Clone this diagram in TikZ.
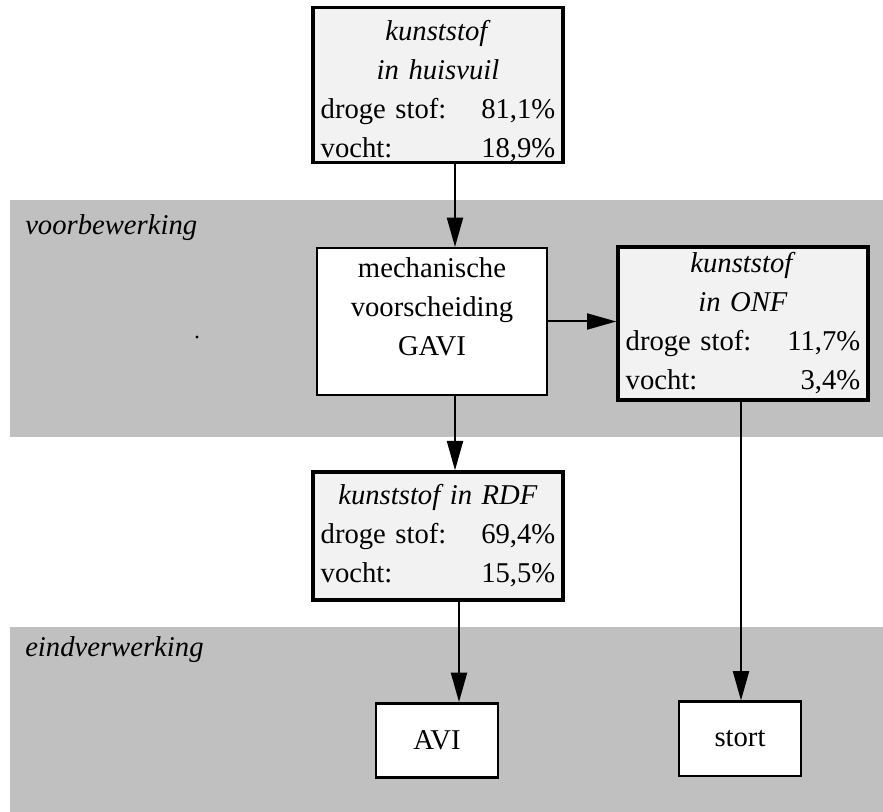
\documentclass[tikz,border=0pt]{standalone}
\usepackage{fontspec}
\setmainfont{Liberation Serif}
\usepackage{tikz}
\usetikzlibrary{arrows.meta}

\definecolor{bandgrijs}{HTML}{C0C0C0}
\definecolor{vakgrijs}{HTML}{F2F2F2}

\newcommand{\regel}[2]{\makebox[\hsize]{#1\hfill#2}}

\tikzset{
    tekst/.style={font=\fontsize{21.5}{29.25}\selectfont},
    stofbox/.style={
        tekst, draw, line width=2.5pt, fill=vakgrijs,
        inner sep=0pt, align=center, text width=176pt,
        minimum width=187.5pt
    },
    stapbox/.style={draw, line width=1.5pt, fill=white, inner sep=0pt},
    eindbox/.style={tekst, draw, line width=2pt, fill=white, inner sep=0pt,
        minimum width=91.5pt, minimum height=55.75pt},
    fase/.style={tekst, font=\fontsize{21.5}{29.25}\selectfont\itshape,
        anchor=base west, inner sep=0pt},
    pijl/.style={-{Triangle[length=22pt,width=12pt]}, line width=1.5pt}
}

\begin{document}
\begin{tikzpicture}[x=0.75pt, y=-0.75pt]
    \useasboundingbox (0,0) rectangle (883,812);
    % achtergrond
    \fill[bandgrijs] (10,200) rectangle (883,437);
    \fill[bandgrijs] (10,627) rectangle (883,812);
    \node[fase] (voor) at (25,235) {voorbewerking};
    \node[fase] (eind) at (25,657) {eindverwerking};
    \fill (197,337) circle (1.6);

    % stromen
    \node[stofbox, minimum height=115.5pt] (huisvuil) at (438,85) {
        \rule{0pt}{25pt}\textit{kunststof}\\ \textit{in huisvuil}\\
        \regel{droge stof:}{81,1\%}\\ \regel{vocht:}{18,9\%}};
    \node[stapbox, minimum width=172.5pt, minimum height=110.25pt] (mech) at (432,321.5) {};
    \node[tekst, align=center, anchor=north, inner sep=0pt] (mechtekst)
        at ([yshift=-7.8pt]mech.north) {mechanische\\ voorscheiding\\ GAVI};
    \node[stofbox, minimum height=114.75pt] (onf) at (743,323.5) {
        \textit{kunststof}\\ \textit{in ONF}\\
        \regel{droge stof:}{11,7\%}\\ \regel{vocht:}{3,4\%}};
    \node[stofbox, minimum height=96pt] (rdf) at (438,536) {
        \textit{kunststof in RDF}\\
        \regel{droge stof:}{69,4\%}\\ \regel{vocht:}{15,5\%}};
    \node[eindbox] (avi) at (437,740.5) {AVI};
    \node[eindbox] (stort) at (740,739) {stort};

    % pijlen
    \draw[pijl] ([xshift=12.75pt]huisvuil.south) -- ([xshift=12.75pt]huisvuil.south |- mech.north);
    \draw[pijl] (mech.east) -- (mech.east -| onf.west);
    \draw[pijl] ([xshift=17.25pt]mech.south) -- ([xshift=17.25pt]mech.south |- rdf.north);
    \draw[pijl] ([xshift=15.75pt]rdf.south) -- ([xshift=15.75pt]rdf.south |- avi.north);
    \draw[pijl] ([xshift=-1.5pt]onf.south) -- ([xshift=-1.5pt]onf.south |- stort.north);
\end{tikzpicture}
\end{document}
